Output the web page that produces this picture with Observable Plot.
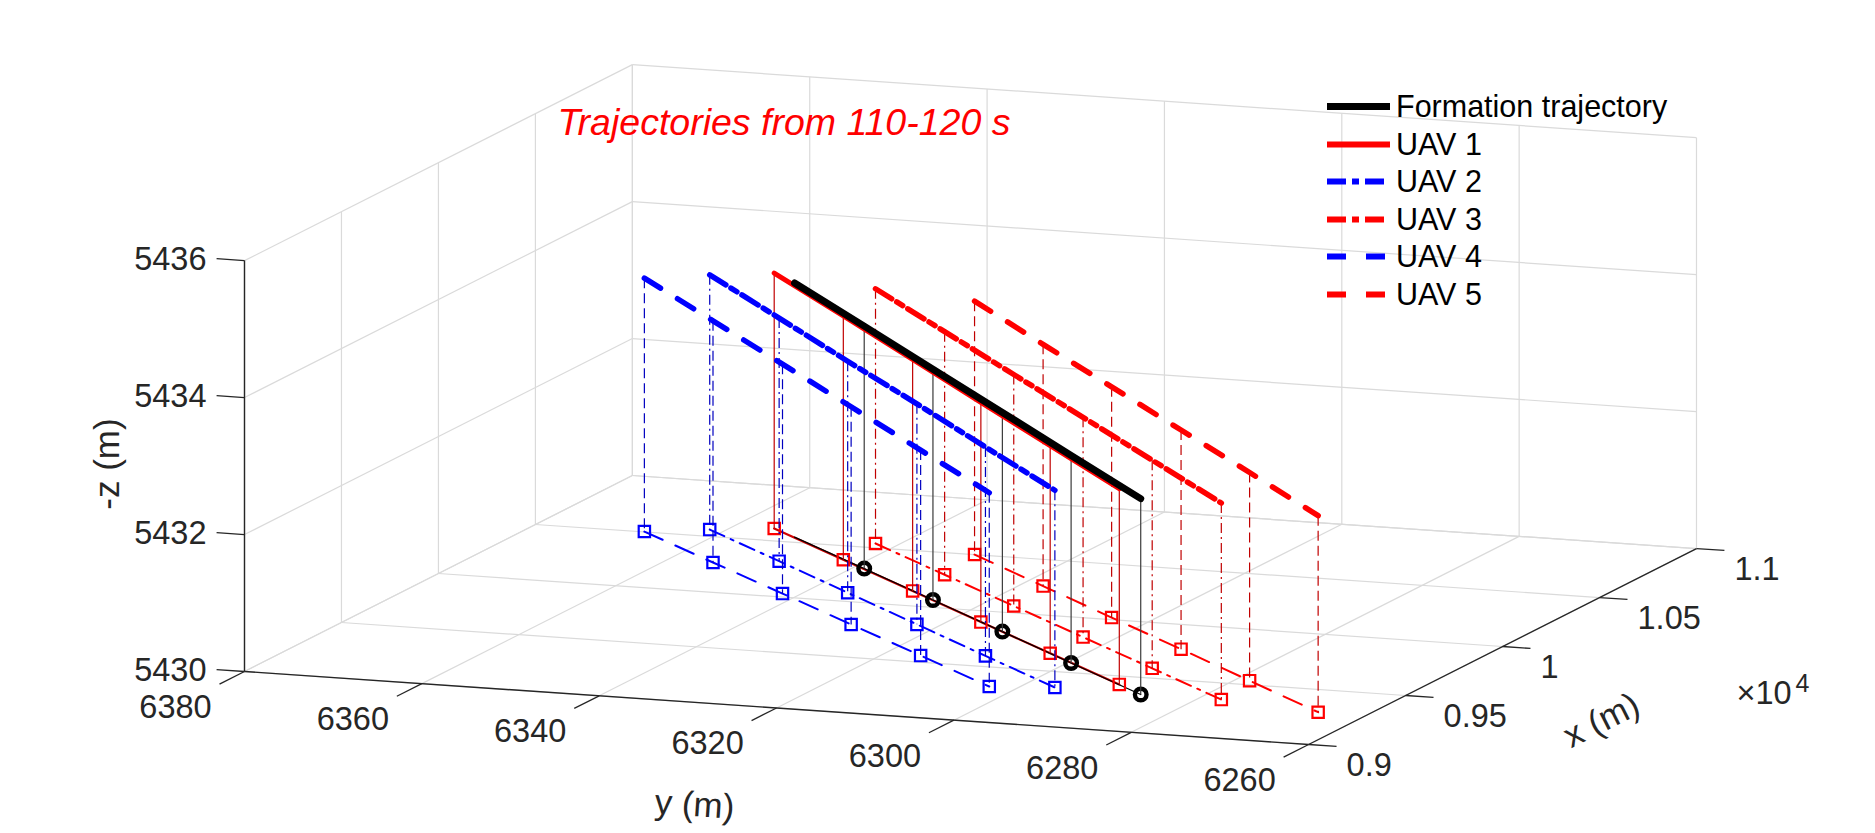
<!DOCTYPE html>
<html>
<head>
<meta charset="utf-8">
<script src="https://cdn.jsdelivr.net/npm/d3@7"></script>
<script src="https://cdn.jsdelivr.net/npm/@observablehq/plot@0.6"></script>
<style>
  html,body{margin:0;padding:0;background:#fff;}
  #chart{position:relative;width:1875px;height:833px;font-family:"Liberation Sans",Arial,Helvetica,sans-serif;}
  #chart > svg{display:block;overflow:visible;}
  #legend{position:absolute;left:1327px;top:88px;font-size:30.5px;color:#000;}
  .row{display:flex;align-items:center;height:37.5px;white-space:nowrap;}
  .row svg{margin-right:6px;flex:none;}
</style>
</head>
<body>
<div id="chart"></div>
<script>
// ---------------- data ----------------
const times = [110, 112, 114, 116, 118, 120];

const formationX = [10547, 10307, 10067, 9826, 9586, 9346];
const formationY = [6351.8, 6338.7, 6325.7, 6312.6, 6299.6, 6286.5];
const formationZ = [5433.71, 5433.54, 5433.37, 5433.20, 5433.03, 5432.86];
const formationMarkerTimes = [112, 114, 116, 118, 120];

const uav1X = [10611, 10373, 10136, 9898, 9661, 9423];
const uav1Y = [6355.5, 6342.5, 6329.5, 6316.6, 6303.6, 6290.6];
const uav1Z = [5433.73, 5433.56, 5433.38, 5433.21, 5433.03, 5432.86];

const uav2X = [10562, 10321, 10080, 9838, 9597, 9356];
const uav2Y = [6361.7, 6348.6, 6335.6, 6322.5, 6309.5, 6296.4];
const uav2Z = [5433.72, 5433.55, 5433.38, 5433.22, 5433.05, 5432.88];

const uav3X = [10539, 10301, 10063, 9826, 9588, 9350];
const uav3Y = [6342.5, 6329.5, 6316.5, 6303.5, 6290.5, 6277.5];
const uav3Z = [5433.72, 5433.55, 5433.38, 5433.21, 5433.04, 5432.87];

const uav4X = [10504, 10268, 10032, 9796, 9560, 9324];
const uav4Y = [6367.8, 6354.9, 6341.9, 6329.0, 6316.0, 6303.1];
const uav4Z = [5433.70, 5433.53, 5433.35, 5433.18, 5433.00, 5432.83];

const uav5X = [10501, 10260, 10019, 9778, 9537, 9296];
const uav5Y = [6330.5, 6317.5, 6304.5, 6291.4, 6278.4, 6265.4];
const uav5Z = [5433.70, 5433.53, 5433.37, 5433.20, 5433.04, 5432.87];

const xLim = [9000, 11000];
const yLim = [6260, 6380];
const zLim = [5430, 5436];
const xTicks = [9000, 9500, 10000, 10500, 11000];
const xTickLabels = ["0.9", "0.95", "1", "1.05", "1.1"];
const xExponent = "4";
const yTicks = [6260, 6280, 6300, 6320, 6340, 6360, 6380];
const yTickLabels = ["6260", "6280", "6300", "6320", "6340", "6360", "6380"];
const zTicks = [5430, 5432, 5434, 5436];
const zTickLabels = ["5430", "5432", "5434", "5436"];

const legendLabels = ["Formation trajectory", "UAV 1", "UAV 2", "UAV 3", "UAV 4", "UAV 5"];
const titleText = "Trajectories from 110-120 s";
const xLabel = "x (m)", yLabel = "y (m)", zLabel = "-z (m)";

// ---------------- view / layout ----------------
const AZ = 69.77, EL = 10.73, ASPECT = [1, 1.011, 0.3728];
const BOX = {left: 244, right: 1696, bottom: 744};
const FONT = '"Liberation Sans", Arial, Helvetica, sans-serif';
const INK = "#262626";
const TICK_FONT = 32.5, LABEL_FONT = 35;

const az = AZ * Math.PI / 180, el = EL * Math.PI / 180;
function proj(X, Y, Z) {
  const a = (X - xLim[0]) / (xLim[1] - xLim[0]);
  const b = (yLim[1] - Y) / (yLim[1] - yLim[0]);
  const c = (Z - zLim[0]) / (zLim[1] - zLim[0]);
  const u = ASPECT[0] * a * Math.cos(az) + ASPECT[1] * b * Math.sin(az);
  const v = (ASPECT[0] * a * Math.sin(az) - ASPECT[1] * b * Math.cos(az)) * Math.sin(el)
          + ASPECT[2] * c * Math.cos(el);
  return [u, v];
}
const corners = [];
for (const X of xLim) for (const Y of yLim) for (const Z of zLim) corners.push(proj(X, Y, Z));
const uMin = d3.min(corners, d => d[0]), uMax = d3.max(corners, d => d[0]);
const vMin = d3.min(corners, d => d[1]), vMax = d3.max(corners, d => d[1]);
const S = (BOX.right - BOX.left) / (uMax - uMin);

function pt(X, Y, Z) { const [u, v] = proj(X, Y, Z); return {u, v}; }
function seg(p, q) { const [u1, v1] = proj(...p), [u2, v2] = proj(...q); return {u1, v1, u2, v2}; }

// ---------------- styles ----------------
const RED = "#ff0000", BLUE = "#0000ff";
const style = {
  formation: {color: "#000", width: 7, dash: undefined, drop: "#3a3a3a", dropDash: undefined, floor: "#000", floorWidth: 1.3, floorDash: undefined, symbol: "circle", r: 5.8, mw: 4.4},
  uav1: {color: RED, width: 5, dash: undefined, drop: "#c00000", dropDash: undefined, floor: "#d00000", floorWidth: 2.2, floorDash: undefined, symbol: "square", r: 6.4, mw: 2.2},
  uav2: {color: BLUE, width: 5.5, dash: "19,6,7,6", drop: "#0000c0", dropDash: "10,4,2,4", floor: BLUE, floorWidth: 2, floorDash: "16,7,3,7", symbol: "square", r: 6.4, mw: 2.2},
  uav3: {color: RED, width: 5.5, dash: "19,6,7,6", drop: "#c00000", dropDash: "10,4,2,4", floor: RED, floorWidth: 2, floorDash: "16,7,3,7", symbol: "square", r: 6.4, mw: 2.2},
  uav4: {color: BLUE, width: 5.5, dash: "19,20", drop: "#0000c0", dropDash: "10,5", floor: BLUE, floorWidth: 2, floorDash: "20,14", symbol: "square", r: 6.4, mw: 2.2},
  uav5: {color: RED, width: 5.5, dash: "19,20", drop: "#c00000", dropDash: "10,5", floor: RED, floorWidth: 2, floorDash: "20,14", symbol: "square", r: 6.4, mw: 2.2}
};

const series = [
  {key: "formation", X: formationX, Y: formationY, Z: formationZ, marks: formationMarkerTimes},
  {key: "uav1", X: uav1X, Y: uav1Y, Z: uav1Z, marks: times},
  {key: "uav2", X: uav2X, Y: uav2Y, Z: uav2Z, marks: times},
  {key: "uav3", X: uav3X, Y: uav3Y, Z: uav3Z, marks: times},
  {key: "uav4", X: uav4X, Y: uav4Y, Z: uav4Z, marks: times},
  {key: "uav5", X: uav5X, Y: uav5Y, Z: uav5Z, marks: times}
].map(s => ({...s, pts: times.map((t, i) => {
  const [u, v] = proj(s.X[i], s.Y[i], s.Z[i]);
  const [fu, fv] = proj(s.X[i], s.Y[i], zLim[0]);
  return {t, u, v, fu, fv};
})}));

// ---------------- box grid ----------------
const [x0, x1] = xLim, [y0, y1] = yLim, [z0, z1] = zLim;
const grid = [];
for (const X of xTicks) {
  grid.push(seg([X, y1, z0], [X, y0, z0]));
  grid.push(seg([X, y1, z0], [X, y1, z1]));
}
for (const Y of yTicks) {
  grid.push(seg([x0, Y, z0], [x1, Y, z0]));
  grid.push(seg([x1, Y, z0], [x1, Y, z1]));
}
for (const Z of zTicks) {
  grid.push(seg([x0, y1, Z], [x1, y1, Z]));
  grid.push(seg([x1, y1, Z], [x1, y0, Z]));
}
const axisLines = [
  seg([x0, y1, z0], [x0, y1, z1]),
  seg([x0, y1, z0], [x0, y0, z0]),
  seg([x0, y0, z0], [x1, y0, z0])
];
function unit(p, q) { const [a, b] = proj(...p), [c, d] = proj(...q); const L = Math.hypot(c - a, d - b); return [(c - a) / L, (d - b) / L]; }
const dirY = unit([x0, y1, z0], [x0, y0, z0]);   // along y axis (to the right)
const dirX = unit([x0, y1, z0], [x1, y1, z0]);   // along x axis (to the back)
const TL = 28 / S;
const ticks = [];
const zTickPts = zTicks.map((Z, i) => ({...pt(x0, y1, Z), label: zTickLabels[i]}));
const yTickPts = yTicks.map((Y, i) => ({...pt(x0, Y, z0), label: yTickLabels[i]}));
const xTickPts = xTicks.map((X, i) => ({...pt(X, y0, z0), label: xTickLabels[i]}));
for (const p of zTickPts) ticks.push({u1: p.u, v1: p.v, u2: p.u - dirY[0] * TL, v2: p.v - dirY[1] * TL});
for (const p of yTickPts) ticks.push({u1: p.u, v1: p.v, u2: p.u - dirX[0] * TL, v2: p.v - dirX[1] * TL});
for (const p of xTickPts) ticks.push({u1: p.u, v1: p.v, u2: p.u + dirY[0] * TL, v2: p.v + dirY[1] * TL});

const angY = Math.atan2(-dirY[1], dirY[0]) * 180 / Math.PI;
const angX = Math.atan2(-dirX[1], dirX[0]) * 180 / Math.PI;

// ---------------- marks ----------------
const marks = [
  Plot.link(grid, {x1: "u1", y1: "v1", x2: "u2", y2: "v2", stroke: "#dadada", strokeWidth: 1.2})
];
const byKey = k => series.find(s => s.key === k);
const order = ["uav4", "uav2", "uav1", "formation", "uav3", "uav5"];
// floor projections
for (const k of order) {
  const s = byKey(k), st = style[k];
  marks.push(Plot.line(s.pts, {x: "fu", y: "fv", stroke: st.floor, strokeWidth: st.floorWidth, strokeDasharray: st.floorDash}));
}
// floor markers
for (const k of order) {
  const s = byKey(k), st = style[k];
  marks.push(Plot.dot(s.pts.filter(p => s.marks.includes(p.t)), {x: "fu", y: "fv", symbol: st.symbol, r: st.r, stroke: st.color, strokeWidth: st.mw, fill: "none"}));
}
// drop lines
for (const k of order) {
  const s = byKey(k), st = style[k];
  marks.push(Plot.link(s.pts.filter(p => s.marks.includes(p.t)), {x1: "u", y1: "v", x2: "fu", y2: "fv", stroke: st.drop, strokeWidth: 1.2, strokeDasharray: st.dropDash}));
}
// trajectories
for (const k of order) {
  const s = byKey(k), st = style[k];
  marks.push(Plot.line(s.pts, {x: "u", y: "v", stroke: st.color, strokeWidth: st.width, strokeDasharray: st.dash}));
}
// axes, ticks, labels
marks.push(
  Plot.link(axisLines, {x1: "u1", y1: "v1", x2: "u2", y2: "v2", stroke: INK, strokeWidth: 1.4}),
  Plot.link(ticks, {x1: "u1", y1: "v1", x2: "u2", y2: "v2", stroke: INK, strokeWidth: 1.3}),
  Plot.text(zTickPts, {x: "u", y: "v", text: "label", textAnchor: "end", lineAnchor: "middle", dx: -38, dy: -1, fontSize: TICK_FONT, fill: INK}),
  Plot.text(yTickPts, {x: "u", y: "v", text: "label", textAnchor: "middle", lineAnchor: "middle", dx: -69, dy: 36, fontSize: TICK_FONT, fill: INK}),
  Plot.text(xTickPts, {x: "u", y: "v", text: "label", textAnchor: "start", lineAnchor: "middle", dx: 38, dy: 21, fontSize: TICK_FONT, fill: INK}),
  Plot.text([pt(x1, y0, z0)], {x: "u", y: "v", text: () => "\u00d710", textAnchor: "start", lineAnchor: "bottom", dx: 40, dy: 155, fontSize: TICK_FONT, fill: INK}),
  Plot.text([pt(x1, y0, z0)], {x: "u", y: "v", text: () => xExponent, textAnchor: "start", lineAnchor: "bottom", dx: 99, dy: 143, fontSize: 25, fill: INK}),
  Plot.text([pt(x0, y1, (z0 + z1) / 2)], {x: "u", y: "v", text: () => zLabel, textAnchor: "middle", lineAnchor: "middle", dx: -137, dy: -2, rotate: -90, fontSize: LABEL_FONT, fill: INK}),
  Plot.text([pt(x0, (y0 + y1) / 2, z0)], {x: "u", y: "v", text: () => yLabel, textAnchor: "middle", lineAnchor: "middle", dx: -82, dy: 97, rotate: angY, fontSize: LABEL_FONT, fill: INK}),
  Plot.text([pt((x0 + x1) / 2, y0, z0)], {x: "u", y: "v", text: () => xLabel, textAnchor: "middle", lineAnchor: "middle", dx: 99, dy: 74, rotate: angX, fontSize: LABEL_FONT, fill: INK}),
  Plot.text([titleText], {frameAnchor: "top-left", dx: 557, dy: 134, textAnchor: "start", lineAnchor: "bottom", fontSize: 37.5, fontStyle: "italic", fill: RED})
);

const chart = Plot.plot({
  width: 1875,
  height: 833,
  margin: 0,
  style: {fontFamily: FONT, background: "#fff", overflow: "visible"},
  x: {domain: [uMin, uMax], range: [BOX.left, BOX.right], axis: null},
  y: {domain: [vMin, vMax], range: [BOX.bottom, BOX.bottom - S * (vMax - vMin)], axis: null},
  marks
});
const host = document.getElementById("chart");
host.appendChild(chart);

// ---------------- legend ----------------
const legendKeys = ["formation", "uav1", "uav2", "uav3", "uav4", "uav5"];
const legend = document.createElement("div");
legend.id = "legend";
legendKeys.forEach((k, i) => {
  const st = style[k];
  const row = document.createElement("div");
  row.className = "row";
  const ns = "http://www.w3.org/2000/svg";
  const svg = document.createElementNS(ns, "svg");
  svg.setAttribute("width", 63); svg.setAttribute("height", 37);
  const ln = document.createElementNS(ns, "line");
  ln.setAttribute("x1", 0); ln.setAttribute("x2", 63);
  ln.setAttribute("y1", 18.5); ln.setAttribute("y2", 18.5);
  ln.setAttribute("stroke", st.color);
  ln.setAttribute("stroke-width", k === "formation" ? 7 : 6);
  if (st.dash) ln.setAttribute("stroke-dasharray", st.dash);
  svg.appendChild(ln);
  const tx = document.createElement("span");
  tx.textContent = legendLabels[i];
  row.appendChild(svg); row.appendChild(tx);
  legend.appendChild(row);
});
host.appendChild(legend);
</script>
</body>
</html>
